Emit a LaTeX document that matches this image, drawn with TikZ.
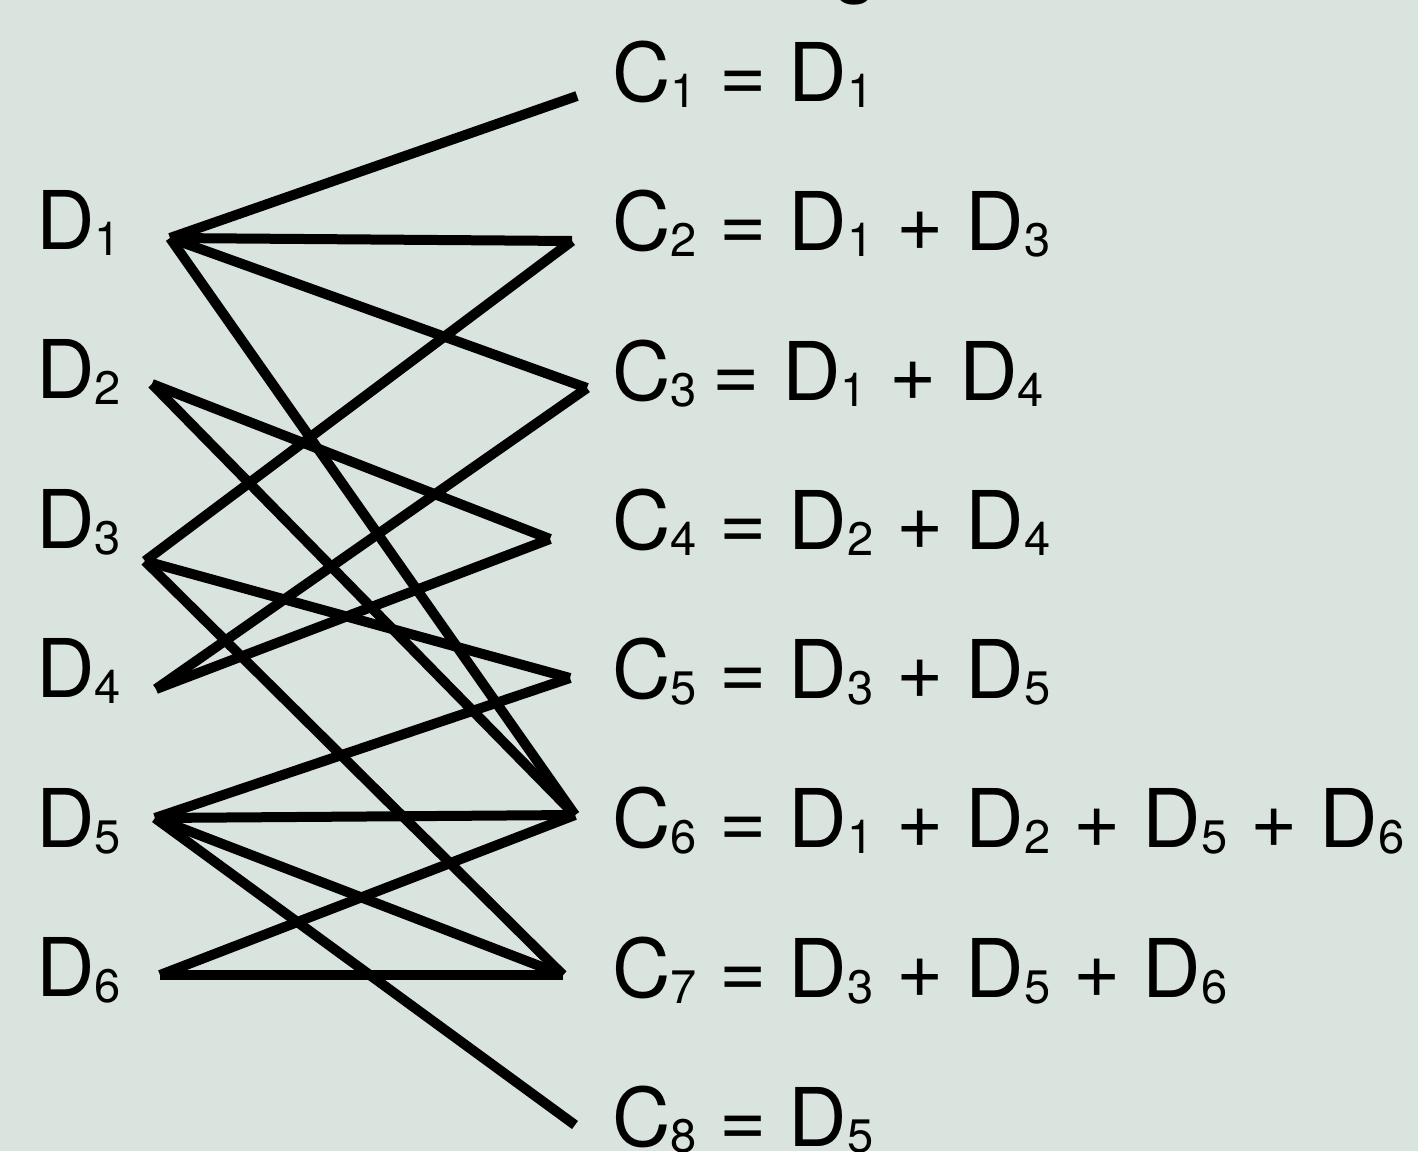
\documentclass[tikz,border=0pt]{standalone}
\usepackage{fontspec}
\setmainfont{TeX Gyre Heros}
\definecolor{bgc}{RGB}{218,228,222}
\newcommand\sbx[1]{\raisebox{-3pt}{\fontsize{23.5pt}{23.5pt}\selectfont #1}}
\begin{document}
\begin{tikzpicture}[x=0.5pt,y=-0.5pt,
  lbl/.style={anchor=base west,inner sep=0pt,outer sep=0pt,font=\fontsize{40.5pt}{48pt}\selectfont},
  wire/.style={line width=5pt,line cap=butt,black}]
\useasboundingbox (0,0) rectangle (1418,1151);
\fill[bgc] (0,0) rectangle (1418,1151);
% cut-off glyph at top
\node[lbl] (top) at (833,-12) {g};
% left labels
\node[lbl] (ld1) at (36,249) {D\sbx{1}};
\node[lbl] (ld2) at (36,398) {D\sbx{2}};
\node[lbl] (ld3) at (36,548) {D\sbx{3}};
\node[lbl] (ld4) at (36,697) {D\sbx{4}};
\node[lbl] (ld5) at (36,847) {D\sbx{5}};
\node[lbl] (ld6) at (36,996) {D\sbx{6}};
% right labels
\node[lbl] (lc1) at (612,101) {C\sbx{1} = D\sbx{1}};
\node[lbl] (lc2) at (612,250) {C\sbx{2} = D\sbx{1} + D\sbx{3}};
\node[lbl] (lc3) at (612,400) {C\sbx{3}\hspace{8pt}= D\sbx{1} + D\sbx{4}};
\node[lbl] (lc4) at (612,549) {C\sbx{4} = D\sbx{2} + D\sbx{4}};
\node[lbl] (lc5) at (612,698) {C\sbx{5} = D\sbx{3} + D\sbx{5}};
\node[lbl] (lc6) at (612,847) {C\sbx{6} = D\sbx{1} + D\sbx{2} + D\sbx{5} + D\sbx{6}};
\node[lbl] (lc7) at (612,997) {C\sbx{7} = D\sbx{3} + D\sbx{5} + D\sbx{6}};
\node[lbl] (lc8) at (612,1146) {C\sbx{8} = D\sbx{5}};
% endpoints
\coordinate (d1) at (170,238);
\coordinate (d2) at (152,384);
\coordinate (d3) at (145,561);
\coordinate (d4) at (156,689);
\coordinate (d5) at (155,818);
\coordinate (d6) at (160,975);
\coordinate (c1) at (577,96);
\coordinate (c2) at (572,241);
\coordinate (c3) at (587,388);
\coordinate (c4) at (550,539);
\coordinate (c5) at (570,678);
\coordinate (c6) at (575,815);
\coordinate (c7) at (563,975);
\coordinate (c8) at (575,1125);
% connections
\draw[wire] (d1) -- (c1);
\draw[wire] (d1) -- (c2);
\draw[wire] (d3) -- (c2);
\draw[wire] (d1) -- (c3);
\draw[wire] (d4) -- (c3);
\draw[wire] (d2) -- (c4);
\draw[wire] (d4) -- (c4);
\draw[wire] (d3) -- (c5);
\draw[wire] (d5) -- (c5);
\draw[wire] (d1) -- (c6);
\draw[wire] (d2) -- (c6);
\draw[wire] (d5) -- (c6);
\draw[wire] (d6) -- (c6);
\draw[wire] (d3) -- (c7);
\draw[wire] (d5) -- (c7);
\draw[wire] (d6) -- (c7);
\draw[wire] (d5) -- (c8);
\end{tikzpicture}
\end{document}
